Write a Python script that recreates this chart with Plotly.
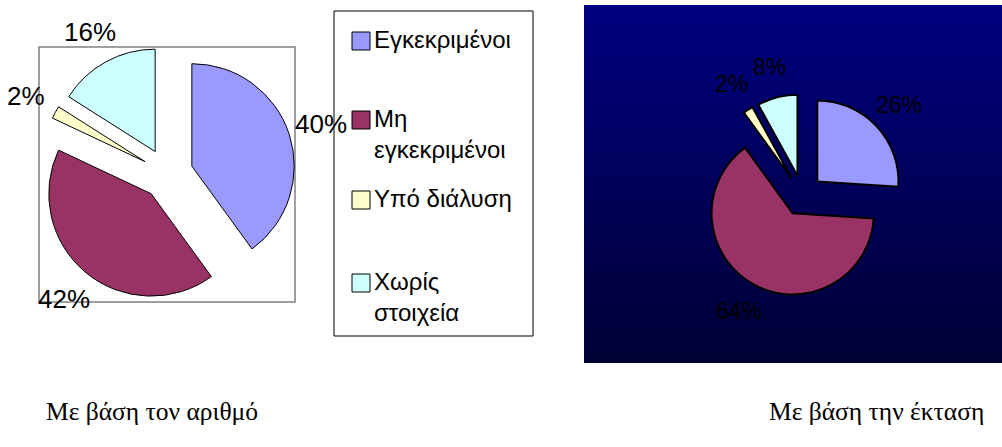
import math
import plotly.graph_objects as go

# ---- data ----
categories = ["Εγκεκριμένοι", "Μη εγκεκριμένοι", "Υπό διάλυση", "Χωρίς στοιχεία"]
legend_text = ["Εγκεκριμένοι", "Μη<br>εγκεκριμένοι", "Υπό διάλυση", "Χωρίς<br>στοιχεία"]
share_by_number = [40, 42, 2, 16]
share_by_area = [26, 64, 2, 8]
slice_colors = ["#9999FF", "#993366", "#FFFFCC", "#CCFFFF"]
captions = ["Με βάση τον αριθμό", "Με βάση την έκταση"]

W, H = 1002, 447
PULL = 0.25


def fx(x):
    return x / W


def fy(y):
    return 1 - y / H


fig = go.Figure()
annotations = []
shapes = []


def add_pie(values, box, line_w, font_size, label_factor):
    x0, x1, y0, y1 = box  # pixel box of the pie domain
    fig.add_trace(go.Pie(
        labels=categories, values=values, sort=False,
        direction="clockwise", rotation=0, pull=[PULL] * len(values),
        marker=dict(colors=slice_colors, line=dict(color="black", width=line_w)),
        textinfo="none", automargin=False,
        domain=dict(x=[fx(x0), fx(x1)], y=[fy(y1), fy(y0)]),
        showlegend=False, hoverinfo="label+percent",
    ))
    # percentage labels placed along each slice's bisector
    cx, cy = (x0 + x1) / 2, (y0 + y1) / 2
    r = min(x1 - x0, y1 - y0) / (2 * (1 + PULL))
    total = sum(values)
    cum = 0
    for v in values:
        mid = (cum + v / 2) / total * 2 * math.pi
        cum += v
        lx = cx + label_factor * r * math.sin(mid)
        ly = cy - label_factor * r * math.cos(mid)
        annotations.append(dict(xref="paper", yref="paper", x=fx(lx), y=fy(ly),
                                xanchor="center", yanchor="middle", showarrow=False,
                                text="%d%%" % round(v / total * 100),
                                font=dict(family="Liberation Sans, Arial", size=font_size,
                                          color="black")))


# gradient background of right panel (navy to dark navy)
top_y, bot_y, n = 5, 363, 90
c_top, c_bot = (0, 0, 128), (0, 0, 54)
step = (bot_y - top_y) / n
for i in range(n):
    t = i / (n - 1)
    col = tuple(round(a + (b - a) * t) for a, b in zip(c_top, c_bot))
    ya = top_y + step * i
    yb = min(ya + step + 2, bot_y)
    shapes.append(dict(type="rect", xref="paper", yref="paper", layer="below",
                       x0=fx(584), x1=1.0, y0=fy(yb), y1=fy(ya),
                       line=dict(width=0), fillcolor="rgb(%d,%d,%d)" % col))

# plot-area frame of left pie
shapes.append(dict(type="rect", xref="paper", yref="paper", layer="below",
                   x0=fx(39), x1=fx(295), y0=fy(302), y1=fy(47),
                   line=dict(color="#808080", width=1.5), fillcolor="rgba(0,0,0,0)"))

add_pie(share_by_number, (39.5, 295.5, 46, 302), 1, 26, 1.58)
add_pie(share_by_area, (701, 904, 94, 297), 2, 23, 1.63)

# legend frame
shapes.append(dict(type="rect", xref="paper", yref="paper", layer="below",
                   x0=fx(334), x1=fx(533), y0=fy(336), y1=fy(11),
                   line=dict(color="black", width=1), fillcolor="white"))

sym_centers = [41, 120, 200, 283]
for txt, col, yc in zip(legend_text, slice_colors, sym_centers):
    shapes.append(dict(type="rect", xref="paper", yref="paper", layer="above",
                       x0=fx(352), x1=fx(370), y0=fy(yc + 9), y1=fy(yc - 9),
                       line=dict(color="black", width=1), fillcolor=col))
    annotations.append(dict(xref="paper", yref="paper", x=fx(372), y=fy(yc - 17),
                            xanchor="left", yanchor="top", align="left",
                            text=txt, showarrow=False,
                            font=dict(family="Liberation Sans, Arial", size=24, color="black")))

# captions
annotations.append(dict(xref="paper", yref="paper", x=fx(44), y=fy(411),
                        xanchor="left", yanchor="middle", text=captions[0], showarrow=False,
                        font=dict(family="Liberation Serif, Times New Roman", size=25.5,
                                  color="black")))
annotations.append(dict(xref="paper", yref="paper", x=fx(986), y=fy(411),
                        xanchor="right", yanchor="middle", text=captions[1], showarrow=False,
                        font=dict(family="Liberation Serif, Times New Roman", size=25.5,
                                  color="black")))

fig.update_layout(
    width=W, height=H, margin=dict(l=0, r=0, t=0, b=0, autoexpand=False),
    paper_bgcolor="white", plot_bgcolor="white",
    showlegend=False, shapes=shapes, annotations=annotations,
)

fig.write_html("out.html")
